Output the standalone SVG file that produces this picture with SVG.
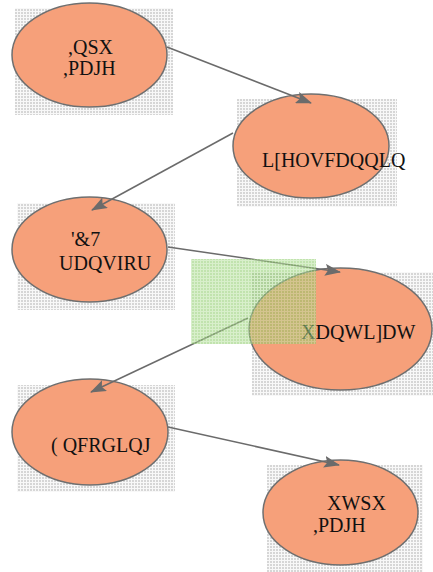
<svg xmlns="http://www.w3.org/2000/svg" width="433" height="572" viewBox="0 0 433 572">
<style>
.node{fill:#F6A07A;stroke:#6f6f6f;stroke-width:1.5}
.hatch{fill:url(#dots)}
.lbl{font-family:"Liberation Serif","Times New Roman",serif;font-size:20px;fill:#111}
.edge{stroke:#6b6b6b;stroke-width:1.5;fill:none;marker-end:url(#ah)}
</style>
<defs>
<pattern id="dots" width="3" height="3" patternUnits="userSpaceOnUse">
<rect width="3" height="3" fill="#f8f8f8"/>
<rect width="2" height="2" fill="#d6d6d6"/>
</pattern>
<pattern id="gdots" width="3" height="3" patternUnits="userSpaceOnUse">
<rect width="3" height="3" fill="#b8e2a0"/>
<rect width="2" height="2" fill="#8fcc6c"/>
</pattern>
<marker id="ah" viewBox="0 0 16 12" refX="15" refY="6" markerWidth="16" markerHeight="12" markerUnits="userSpaceOnUse" orient="auto">
<path d="M0,0 L16,6 L0,12 L3,6 Z" fill="#6b6b6b"/>
</marker>
</defs>
<rect class="hatch" x="15" y="8" width="158" height="107"/>
<rect class="hatch" x="237" y="99" width="160" height="108"/>
<rect class="hatch" x="17" y="203" width="158" height="107"/>
<rect class="hatch" x="252" y="272" width="181" height="124"/>
<rect class="hatch" x="17" y="385" width="158" height="107"/>
<rect class="hatch" x="267" y="465" width="156" height="107"/>
<g id="input-image">
<ellipse class="node" cx="89.5" cy="55" rx="77.5" ry="52"/>
<text class="lbl" x="68" y="54">,QSX</text>
<text class="lbl" x="63" y="75">,PDJH</text>
</g>
<g id="explanation">
<ellipse class="node" cx="311" cy="146" rx="78" ry="52"/>
<text class="lbl" x="262" y="167">L[HOVFDQQLQ</text>
</g>
<g id="dct-transform">
<ellipse class="node" cx="89.5" cy="249.5" rx="77.5" ry="52.5"/>
<text class="lbl" x="71" y="246">'&amp;7</text>
<text class="lbl" x="59" y="270">UDQVIRU</text>
</g>
<g id="quantization">
<ellipse class="node" cx="340.5" cy="329" rx="91.5" ry="61"/>
<text class="lbl" x="301" y="339">XDQWL]DW</text>
</g>
<g id="encoding">
<ellipse class="node" cx="90" cy="432" rx="78" ry="53"/>
<text class="lbl" x="51" y="452">( QFRGLQJ</text>
</g>
<g id="output-image">
<ellipse class="node" cx="340.5" cy="512.5" rx="77.5" ry="52.5"/>
<text class="lbl" x="327" y="510">XWSX</text>
<text class="lbl" x="313" y="532">,PDJH</text>
</g>
<g id="connectors">
<line class="edge" x1="167" y1="47" x2="311" y2="103"/>
<line class="edge" x1="233" y1="133" x2="92" y2="210"/>
<line class="edge" x1="168" y1="247" x2="340" y2="272"/>
<line class="edge" x1="248" y1="318" x2="91" y2="392"/>
<line class="edge" x1="168" y1="427" x2="339" y2="465"/>
</g>
<rect x="191" y="259" width="125" height="85" fill="url(#gdots)" opacity="0.55"/>
</svg>
